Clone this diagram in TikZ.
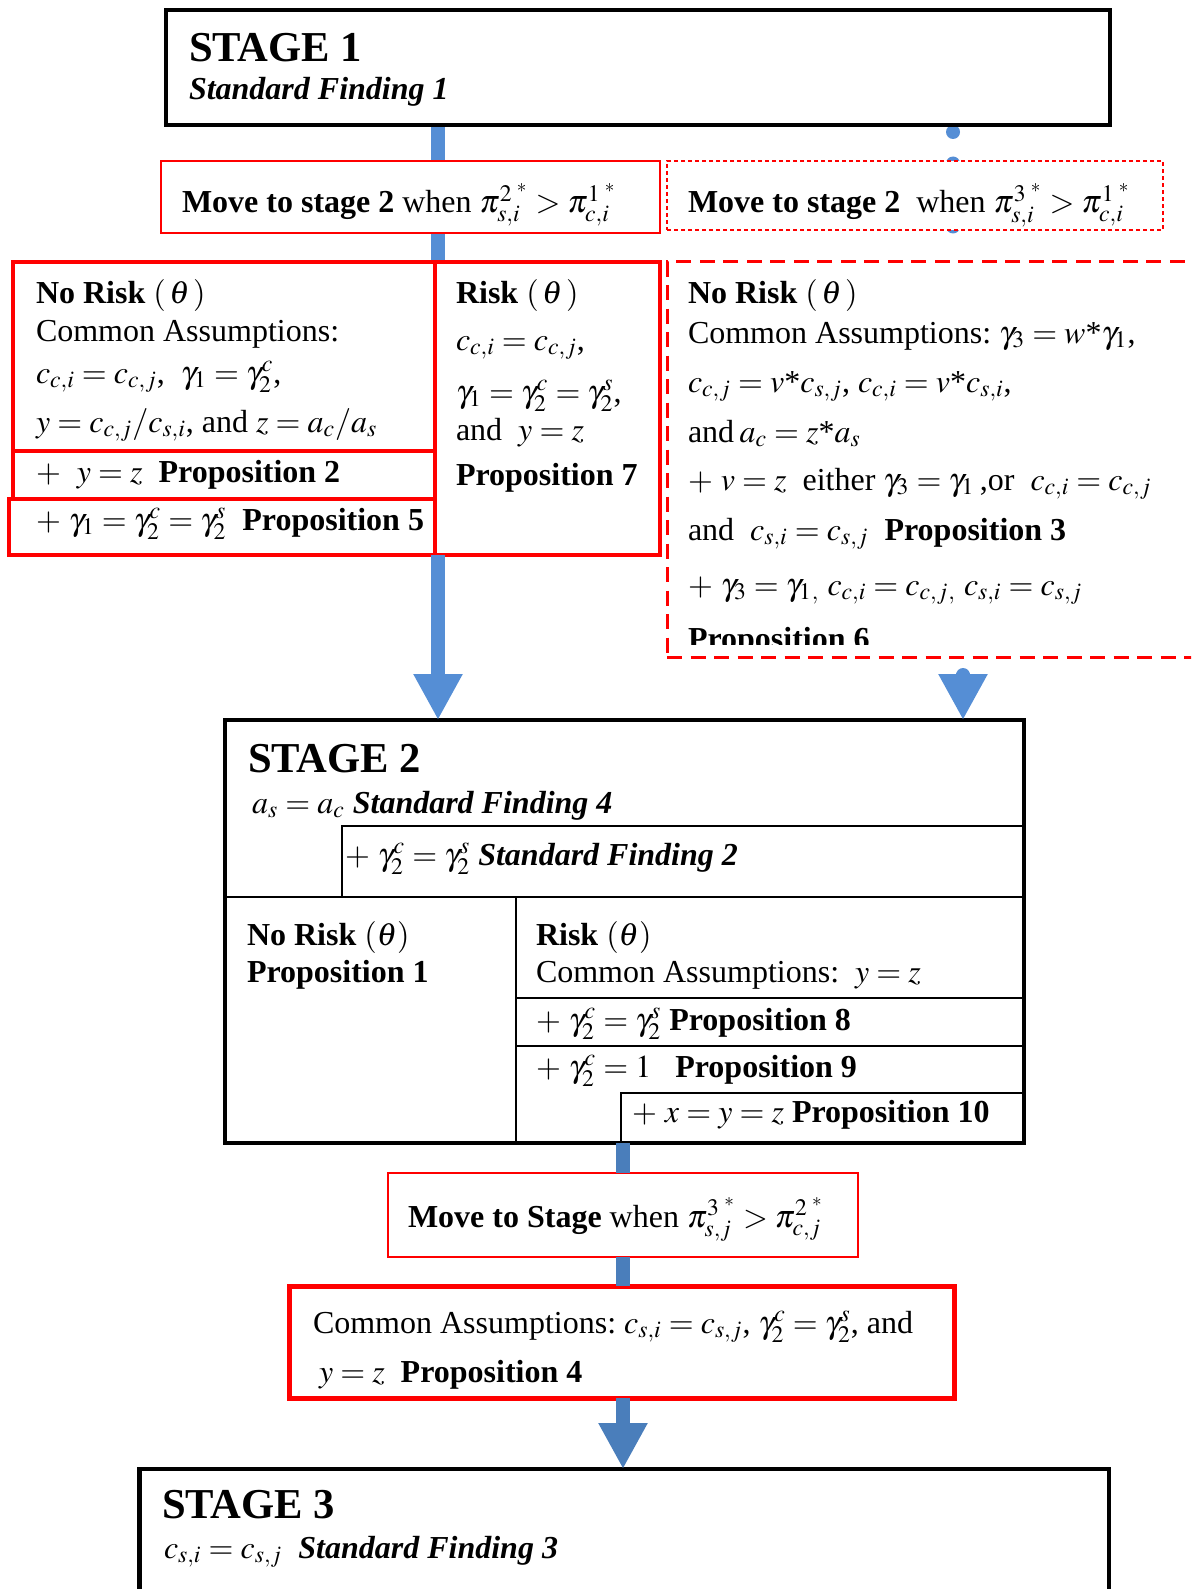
\documentclass[tikz,border=0pt]{standalone}
\usepackage{mathptmx}
\usepackage[no-math]{fontspec}
\setmainfont{Liberation Serif}
\usetikzlibrary{fit,backgrounds,arrows.meta}
\definecolor{blueA}{RGB}{85,142,213}
\definecolor{blueB}{RGB}{74,126,187}
\definecolor{redA}{RGB}{255,0,0}
\newcommand{\tast}{\mbox{*}}
\begin{document}
\begin{tikzpicture}[x=0.5pt,y=-0.5pt,
  fitbox/.style={inner sep=0pt, outer sep=0pt, fill=white},
  blackbox/.style={fitbox, draw=black, line width=2pt},
  thinred/.style={fitbox, draw=redA, line width=0.8pt},
  dotred/.style={fitbox, draw=redA, line width=0.8pt, dash pattern=on 2pt off 1.5pt},
  thickred/.style={fitbox, draw=redA, line width=1.75pt},
  dashred/.style={fitbox, draw=redA, line width=1.5pt, dash pattern=on 7.5pt off 4.25pt},
  boldred/.style={fitbox, draw=redA, line width=2.5pt},
  innerline/.style={draw=black, line width=1pt},
  txt/.style={anchor=base west, inner sep=0pt, outer sep=0pt, font=\fontsize{16}{19}\selectfont},
  stg/.style={txt, font=\fontsize{21.3}{25}\selectfont\bfseries},
  shaftA/.style={draw=blueA, line width=7pt},
  arrowA/.style={shaftA, -{Triangle[length=23pt, width=23pt]}},
  dotsA/.style={draw=blueA, line width=7pt, line cap=round, dash pattern=on 0pt off 15.75pt},
  shaftB/.style={draw=blueB, line width=7pt},
  arrowB/.style={shaftB, -{Triangle[length=23pt, width=23pt]}},
]
\useasboundingbox (0,0) rectangle (1191,1589);
\clip (0,0) rectangle (1191,1589);

% ---- boxes ----
\coordinate (a1) at (166,10);  \coordinate (b1) at (1110,125);
\node[blackbox, fit=(a1)(b1)] (s1) {};
\coordinate (a2) at (161,161); \coordinate (b2) at (660,233);
\node[thinred, fit=(a2)(b2)] (mv1) {};
\coordinate (a3) at (667,161); \coordinate (b3) at (1163,230);
\node[dotred, fit=(a3)(b3)] (mv2) {};

\coordinate (a4) at (13,262);  \coordinate (b4) at (435,451);
\node[thickred, fit=(a4)(b4)] (nr) {};
\coordinate (a5) at (13,451);  \coordinate (b5) at (435,499);
\node[thickred, fit=(a5)(b5)] (pp2) {};
\coordinate (a6) at (9,499);   \coordinate (b6) at (435,555);
\node[thickred, fit=(a6)(b6)] (pp5) {};
\coordinate (a7) at (435,262); \coordinate (b7) at (660,555);
\node[thickred, fit=(a7)(b7)] (rk) {};
\coordinate (a8) at (667,262); \coordinate (b8) at (1210,657);
\node[dashred, fit=(a8)(b8)] (rb) {};

\coordinate (a9) at (225,720); \coordinate (b9) at (1024,1143);
\node[blackbox, fit=(a9)(b9)] (s2) {};
\coordinate (a10) at (388,1173); \coordinate (b10) at (858,1257);
\node[thinred, fit=(a10)(b10)] (mv3) {};
\coordinate (a11) at (289,1286); \coordinate (b11) at (954,1398);
\node[boldred, fit=(a11)(b11)] (p4) {};
\coordinate (a12) at (139.5,1469); \coordinate (b12) at (1109,1650);
\node[blackbox, line width=2.3pt, fit=(a12)(b12)] (s3) {};

% ---- inner lines of stage 2 ----
\draw[innerline] (342,897) -- (342,826) -- (1024,826);
\draw[innerline] (225,897) -- (1024,897);
\draw[innerline] (516,897) -- (516,1143);
\draw[innerline] (516,998) -- (1024,998);
\draw[innerline] (516,1046) -- (1024,1046);
\draw[innerline] (621,1143) -- (621,1093) -- (1024,1093);

% ---- connectors ----
\coordinate (mx) at (438,0);
\coordinate (lx) at (623,0);
\coordinate (rx) at (963,673);
\coordinate (d0) at (953,132);
\coordinate (d1) at (953,258);
\begin{pgfonlayer}{background}
\draw[shaftA] (s1.south -| mx) -- (mv1.north -| mx);
\draw[shaftA] (mv1.south -| mx) -- (nr.north -| mx);
\draw[dotsA] (d0) -- (d1);
\end{pgfonlayer}
\draw[arrowA] (pp5.south -| mx) -- (s2.north -| mx);
\fill[blueA] (963,675) circle (3.5pt);
\draw[arrowA] (rx) -- (s2.north -| rx);
\draw[shaftB] (s2.south -| lx) -- (mv3.north -| lx);
\draw[shaftB] (mv3.south -| lx) -- (p4.north -| lx);
\draw[arrowB] (p4.south -| lx) -- (s3.north -| lx);

% ---- texts ----
\node[stg] (t1) at (189,62) {STAGE 1};
\node[txt] (t2) at (189,100) {\textbf{\textit{Standard Finding 1}}};
\node[txt] (t3) at (182,213) {\textbf{Move to stage 2} when $\pi^{2\;{}^{*}}_{s,i} > \pi^{1\;{}^{*}}_{c,i}$};
\node[txt] (t4) at (688,213) {\textbf{Move to stage 2}\ \ when $\pi^{3\;{}^{*}}_{s,i} > \pi^{1\;{}^{*}}_{c,i}$};

\node[txt] (t5) at (36,303) {\textbf{No Risk} $(\,\theta\,)$};
\node[txt] (t6) at (36,341) {Common Assumptions:};
\node[txt] (t7) at (36,383) {$c_{c,i}=c_{c,j}$,\ \ $\gamma_1=\gamma_2^c$,};
\node[txt] (t8) at (36,432) {$y=c_{c,j}/c_{s,i}$, and\ $z=a_c/a_s$};
\node[txt] (t9) at (36,482) {$+\ \ y=z$\ \ \textbf{Proposition 2}};
\node[txt] (t10) at (36,530) {$+\ \gamma_1=\gamma_2^c=\gamma_2^s$\ \ \textbf{Proposition 5}};

\node[txt] (t11) at (456,303) {\textbf{Risk} $(\,\theta\,)$};
\node[txt] (t12) at (456,350) {$c_{c,i}=c_{c,j}$,};
\node[txt] (t13) at (456,402) {$\gamma_1=\gamma_2^c=\gamma_2^s$,};
\node[txt] (t14) at (456,440) {and\ \ $y=z$};
\node[txt] (t15) at (456,485) {\textbf{Proposition 7}};

\node[txt] (t16) at (688,303) {\textbf{No Risk} $(\,\theta\,)$};
\node[txt] (t17) at (688,343) {Common Assumptions:\ $\gamma_3=w\tast\gamma_1$,};
\node[txt] (t18) at (688,392) {$c_{c,j}=v\tast c_{s,j}$, $c_{c,i}=v\tast c_{s,i}$,};
\node[txt] (t19) at (688,442) {and\,$a_c=z\tast a_s$};
\node[txt] (t20) at (688,490) {$+\ v=z$\ \ either\ $\gamma_3=\gamma_1$\,,or\ \ $c_{c,i}=c_{c,j}$};
\node[txt] (t21) at (688,540) {and\ \ $c_{s,i}=c_{s,j}$\ \ \textbf{Proposition 3}};
\node[txt] (t22) at (688,595) {$+\ \gamma_3=\gamma_1{}_{,}\ c_{c,i}=c_{c,j}{}_{,}\ c_{s,i}=c_{s,j}$};
\begin{scope}
\clip (667,262) rectangle (1191,644);
\node[txt] (t23) at (688,649) {\textbf{Proposition 6}};
\end{scope}

\node[stg] (t24) at (248,772) {STAGE 2};
\node[txt] (t25) at (252,813) {$a_s=a_c$\ \textbf{\textit{Standard Finding 4}}};
\node[txt] (t26) at (345,865) {$+\ \gamma_2^c=\gamma_2^s$\ \textbf{\textit{Standard Finding 2}}};
\node[txt] (t27) at (247,945) {\textbf{No Risk} $(\theta)$};
\node[txt] (t28) at (247,982) {\textbf{Proposition 1}};
\node[txt] (t29) at (536,945) {\textbf{Risk} $(\theta)$};
\node[txt] (t30) at (536,982) {Common Assumptions:\ \ $y=z$};
\node[txt] (t31) at (536,1030) {$+\ \gamma_2^c=\gamma_2^s$\ \textbf{Proposition 8}};
\node[txt] (t32) at (536,1077) {$+\ \gamma_2^c=1$\ \ \ \textbf{Proposition 9}};
\node[txt] (t33) at (632,1122) {$+\ x=y=z$\ \textbf{Proposition 10}};

\node[txt] (t34) at (408,1227) {\textbf{Move to Stage} when $\pi^{3\;{}^{*}}_{s,j} > \pi^{2\;{}^{*}}_{c,j}$};
\node[txt] (t35) at (313,1333) {Common Assumptions:\ $c_{s,i}=c_{s,j}$,\ $\gamma_2^c=\gamma_2^s$, and};
\node[txt] (t36) at (319,1382) {$y=z$\ \ \textbf{Proposition 4}};

\node[stg] (t37) at (162,1518) {STAGE 3};
\node[txt] (t38) at (164,1558) {$c_{s,i}=c_{s,j}$\ \ \textbf{\textit{Standard Finding 3}}};
\end{tikzpicture}
\end{document}
